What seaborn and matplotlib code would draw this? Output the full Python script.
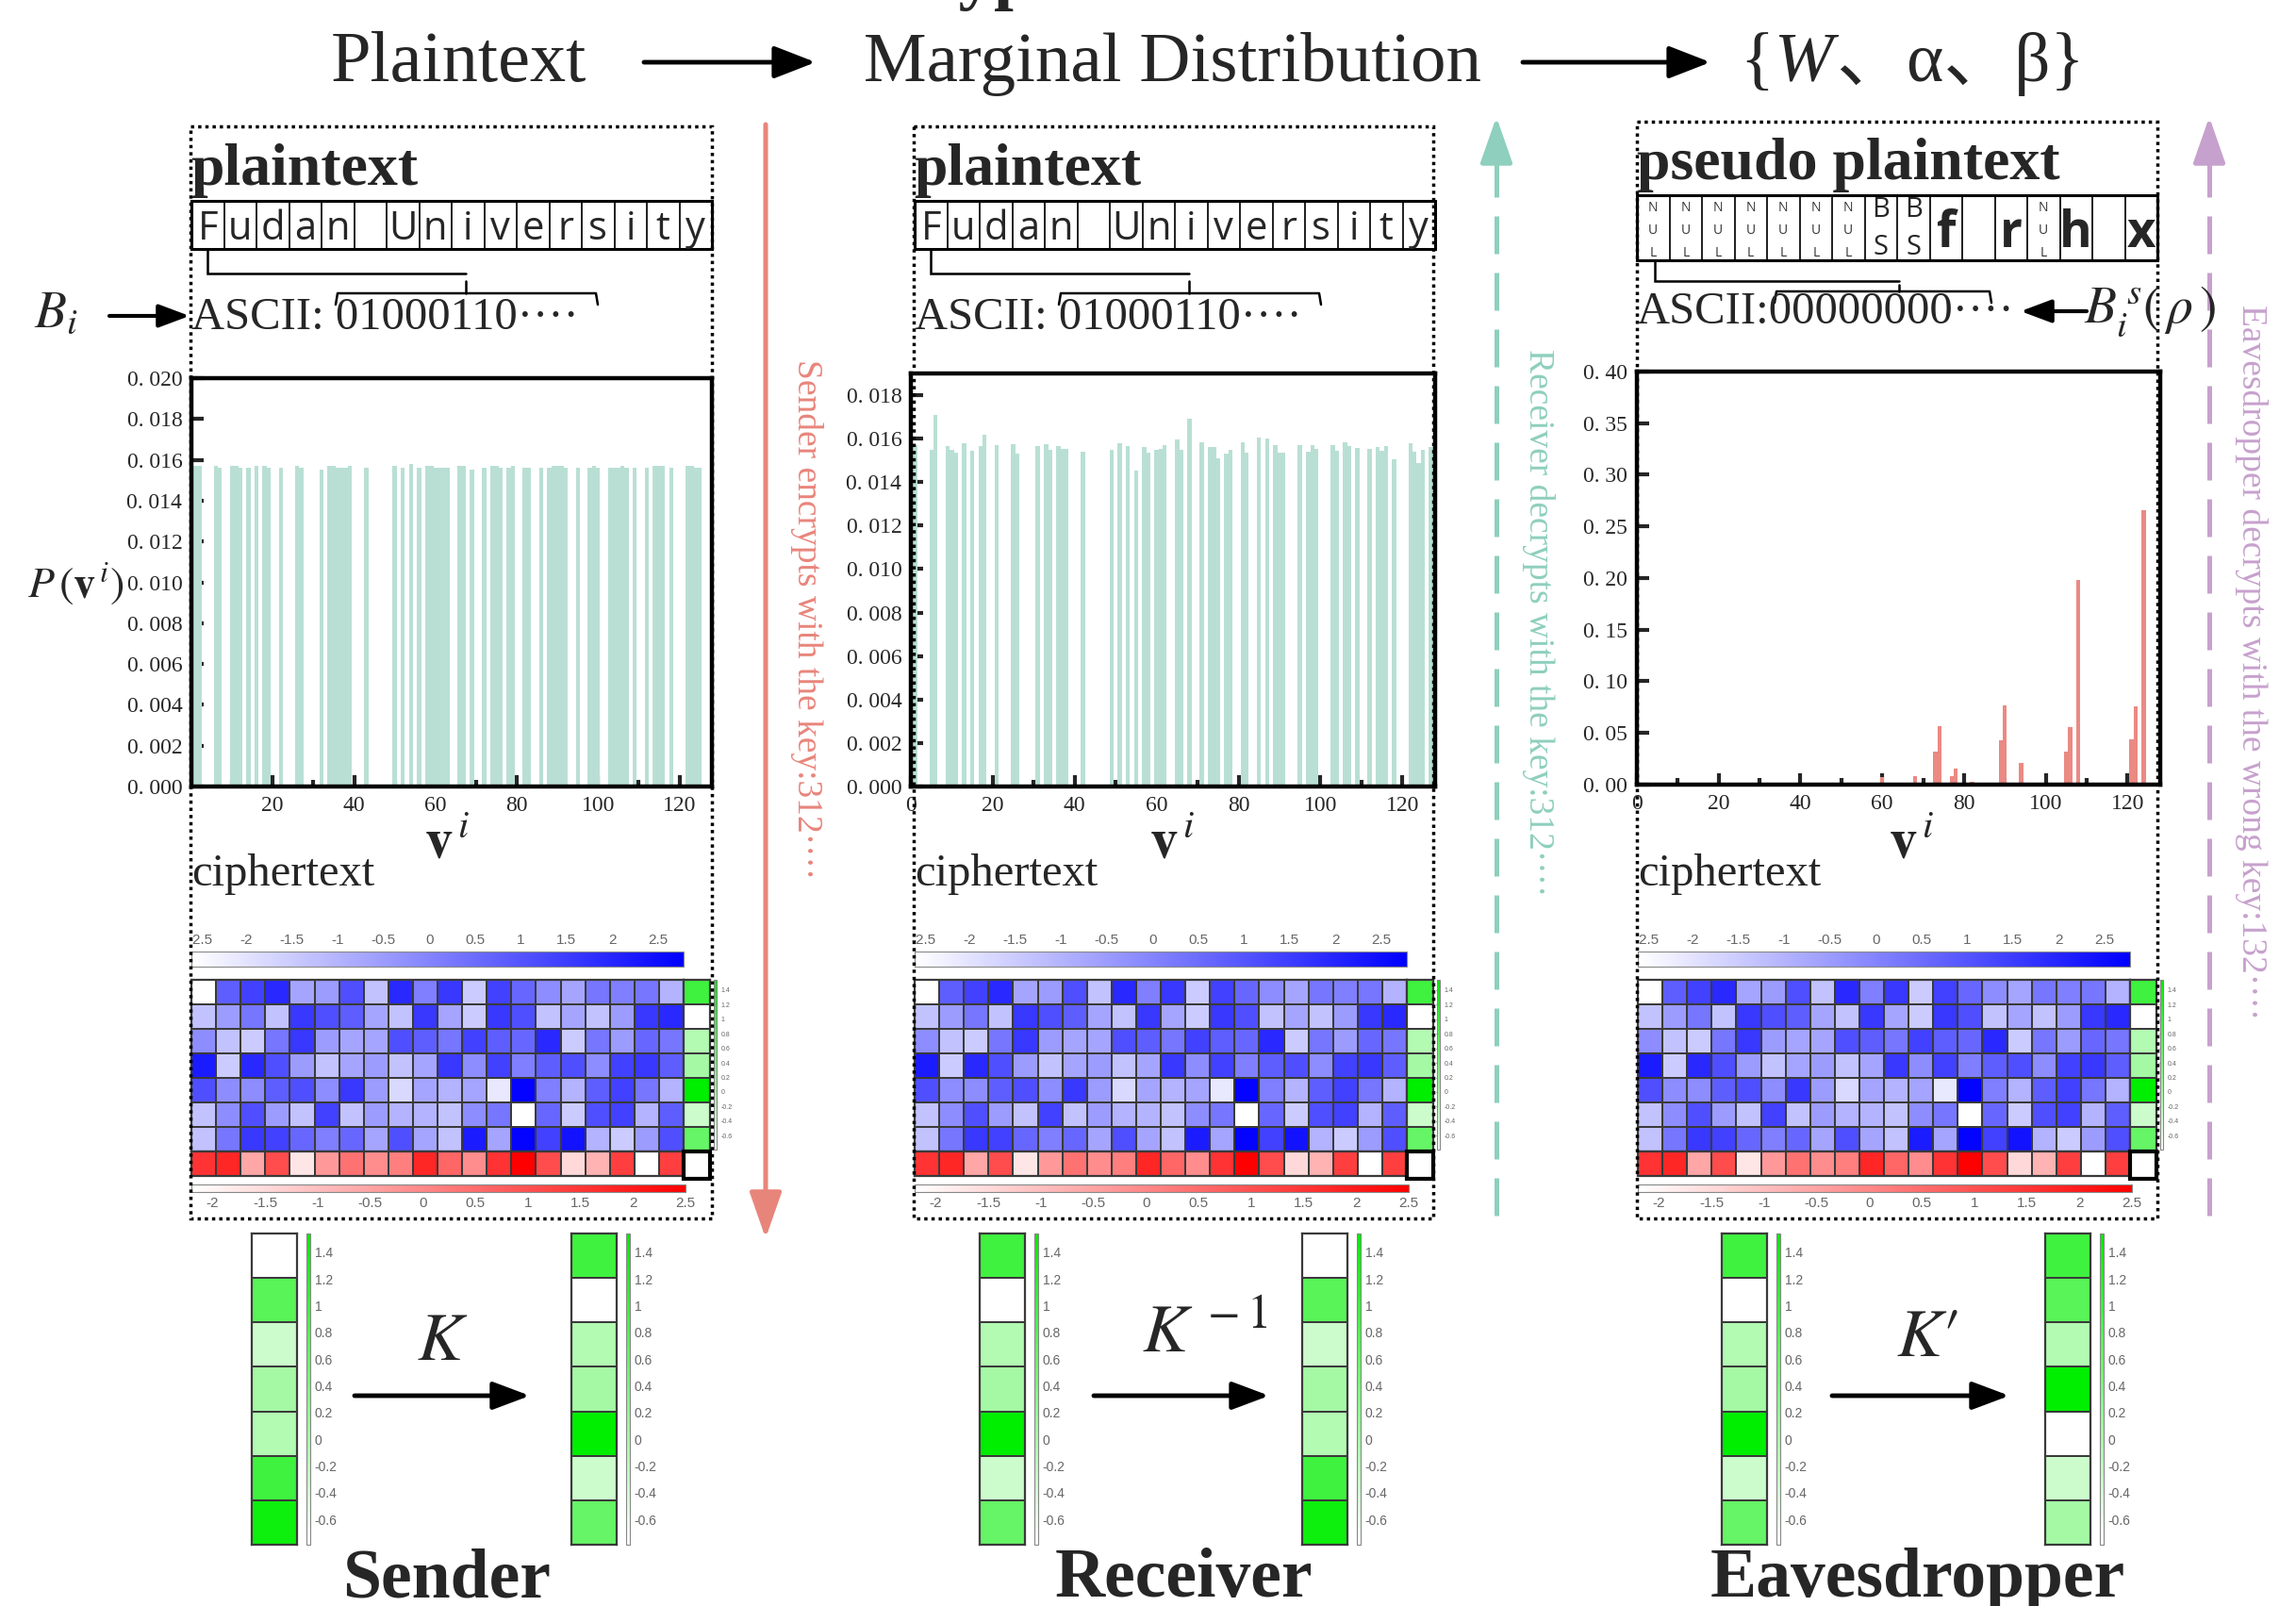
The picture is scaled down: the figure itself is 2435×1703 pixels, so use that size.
import numpy as np
import pandas as pd
import seaborn as sns
import matplotlib
matplotlib.use("Agg")
import matplotlib.pyplot as plt
from matplotlib.colors import LinearSegmentedColormap, Normalize
from matplotlib.cm import ScalarMappable
from matplotlib.patches import Rectangle
from matplotlib.ticker import FixedLocator, FuncFormatter

# ---------------- data ----------------
plain_codes = [1, 2, 6, 7, 10, 11, 12, 14, 16, 18, 19, 22, 26, 27, 32,
               34, 35, 36, 37, 38, 39, 43, 50, 52, 54, 56,
               58, 59, 60, 61, 62, 63, 66, 67, 69, 72, 74, 75, 76, 78, 79,
               82, 83, 86, 88, 89, 90, 91, 92, 95, 98, 99, 100,
               103, 104, 105, 106, 107, 109, 112, 114, 115, 116, 118,
               122, 123, 124, 125, 128]
plain_probs = [0.0157, 0.0157, 0.0157, 0.0156, 0.0157, 0.0157, 0.0156, 0.0156, 0.0157, 0.0157, 0.0156, 0.0156, 0.0157, 0.0156, 0.0155,
               0.0157, 0.0157, 0.0156, 0.0156, 0.0156, 0.0157, 0.0156, 0.0157, 0.0156, 0.0158, 0.0156,
               0.0157, 0.0157, 0.0156, 0.0156, 0.0156, 0.0156, 0.0157, 0.0157, 0.0155, 0.0156, 0.0157, 0.0157, 0.0156, 0.0156, 0.0157,
               0.0156, 0.0156, 0.0156, 0.0156, 0.0157, 0.0157, 0.0157, 0.0156, 0.0156, 0.0156, 0.0157, 0.0156,
               0.0156, 0.0156, 0.0156, 0.0157, 0.0156, 0.0156, 0.0156, 0.0157, 0.0157, 0.0157, 0.0156,
               0.0157, 0.0157, 0.0156, 0.0156, 0.0156]

recv_codes = [1, 5, 6, 9, 10, 11, 13, 15, 17, 18, 21, 25, 26, 31, 33, 34, 36, 37, 38, 42,
              49, 51, 53, 55, 57, 58, 60, 61, 62, 65, 66, 68, 71, 73, 74, 75, 77, 78,
              81, 82, 85, 87, 89, 90, 91, 95, 97, 98, 99, 103, 104, 106, 107, 109,
              112, 114, 115, 116, 118, 122, 123, 124, 125, 127]
recv_probs = [0.0157, 0.0155, 0.0171, 0.01565, 0.01547, 0.01536, 0.01577, 0.01545, 0.01568, 0.01616,
              0.0157, 0.01574, 0.01533, 0.01565, 0.01574, 0.0155, 0.01565, 0.01555, 0.01555, 0.01539,
              0.01547, 0.01577, 0.01568, 0.01453, 0.01562, 0.01536, 0.0155, 0.01555, 0.01572, 0.01597,
              0.01547, 0.01693, 0.01584, 0.0156, 0.0156, 0.01511, 0.0153, 0.01547,
              0.01584, 0.01536, 0.01606, 0.01599, 0.01572, 0.01536, 0.01536, 0.01572, 0.0154, 0.01572,
              0.01555, 0.01572, 0.01543, 0.01582, 0.01565, 0.01556,
              0.01553, 0.0156, 0.01545, 0.01568, 0.01507, 0.01577, 0.01539, 0.01486, 0.0155, 0.01562]

eve_codes = [60, 66, 68, 73, 74, 75, 77, 78, 82, 89, 90, 91, 94, 98,
             105, 106, 108, 114, 121, 122, 123, 124]
eve_probs = [0.007, 0.0016, 0.0085, 0.0323, 0.057, 0.0016, 0.0079, 0.0158, 0.0025, 0.0427,
             0.0769, 0.002, 0.0206, 0.0016, 0.0323, 0.056, 0.1984, 0.0016, 0.0437, 0.0756,
             0.0016, 0.2658]

plain_chars = list("Fudan University")
pseudo_chars = ["NUL"] * 7 + ["BS", "BS", "f", "", "r", "NUL", "h", "", "x"]

cipher_blue = [
    [-2.6, 0.8, 1.4, 1.9, -0.7, -0.5, 1.1, -1.3, 1.9, 0.1, 1.6, -1.5, 1.4, 0.6, -0.2, -0.7, 0.3, 0.1, 0.3, -1.0],
    [-1.3, -0.5, 0.3, -1.3, 1.6, 1.1, 0.8, -0.7, -1.3, 1.6, -0.7, -1.5, 1.6, 1.1, -1.3, -0.7, -1.3, -0.5, 1.6, 1.9],
    [-0.2, -1.3, -1.5, 0.3, 1.6, -0.5, -0.7, -0.7, 1.1, 0.8, 0.3, 1.4, 0.8, 0.6, 1.9, -1.5, 0.3, -0.5, 0.6, 0.3],
    [2.2, -1.5, 1.9, 1.1, -0.5, -1.3, -0.7, -0.5, -1.3, -0.7, 1.6, -0.2, 1.4, 0.1, 0.8, 1.1, -0.2, 1.4, 1.6, 0.8],
    [1.1, -0.2, -0.2, 0.8, 1.1, -0.2, 1.6, -0.5, -1.8, -0.7, -1.0, -0.7, -2.1, 2.7, 0.1, -1.0, 0.8, 1.4, 0.3, -1.0],
    [-1.3, -0.2, 1.1, -0.5, -1.3, 1.4, -1.3, -0.5, -1.0, -1.0, -1.3, -0.2, 0.3, -2.6, 0.6, -1.5, 1.1, 1.4, -1.0, 0.8],
    [-1.3, 0.3, 1.6, 1.4, 0.6, 0.1, 0.6, -0.7, 1.1, -0.7, -1.3, 2.2, -0.7, 2.7, 1.4, 2.4, -1.0, -1.5, -0.5, 1.1],
]
cipher_red = [1.56, 1.8, -0.55, 1.09, -1.73, -0.32, 0.39, -0.09, 0.15, 1.8,
              0.62, -0.09, 1.56, 2.5, 1.09, -1.5, -0.79, 1.33, -2.2, 1.33]
cipher_green = [0.96, -0.79, -0.09, 0.03, 1.54, -0.32, 0.61]

key_plain = [-0.79, 0.73, -0.32, 0.03, -0.09, 0.96, 1.42]
key_wrong = [0.96, 0.73, -0.09, 1.54, -0.79, -0.32, 0.03]

blue_ticks = [-2.5, -2, -1.5, -1, -0.5, 0, 0.5, 1, 1.5, 2, 2.5]
red_ticks = [-2, -1.5, -1, -0.5, 0, 0.5, 1, 1.5, 2, 2.5]
green_ticks = [-0.6, -0.4, -0.2, 0, 0.2, 0.4, 0.6, 0.8, 1, 1.2, 1.4]

# ---------------- style ----------------
sns.set_theme(style="white")
plt.rcParams["font.family"] = ["Liberation Serif", "Noto Sans CJK SC", "DejaVu Sans"]
plt.rcParams["mathtext.fontset"] = "stix"

W, H = 2435, 1703
fig = plt.figure(figsize=(W / 100, H / 100), dpi=100)
fig.patch.set_facecolor("white")


def px_axes(x0, y0, x1, y1, **kw):
    return fig.add_axes([x0 / W, 1 - y1 / H, (x1 - x0) / W, (y1 - y0) / H], **kw)


ov = fig.add_axes([0, 0, 1, 1], zorder=20)
ov.set_xlim(0, W)
ov.set_ylim(H, 0)
ov.axis("off")

TEAL = "#b9dfd4"
SALMON = "#eb8983"
RED_TXT = "#e8857b"
TEAL_TXT = "#8ecfbd"
PURPLE = "#c7a1cd"
GRAY = "#666666"

blue_cmap = LinearSegmentedColormap.from_list("wb", ["#ffffff", "#0000ff"])
red_cmap = LinearSegmentedColormap.from_list("wr", ["#ffffff", "#ff0000"])
green_cmap = LinearSegmentedColormap.from_list("wg", ["#ffffff", "#00ee00"])
blue_norm = Normalize(-2.6, 2.78)
red_norm = Normalize(-2.2, 2.5)
green_norm = Normalize(-0.79, 1.54)

num_fmt = FuncFormatter(lambda v, _: f"{v:g}")

# ---------------- header ----------------
ov.text(859, -4, "Encryption", fontsize=54, fontweight="bold", ha="left", va="baseline")
ov.text(486, 86, "Plaintext", fontsize=55, ha="center", va="baseline")
ov.text(1244, 86, "Marginal Distribution", fontsize=54, ha="center", va="baseline")
for xa, xb in [(683, 865), (1615, 1814)]:
    ov.annotate("", xy=(xb, 66), xytext=(xa, 66),
                arrowprops=dict(arrowstyle="-|>,head_length=0.9,head_width=0.35",
                                color="black", lw=3.5, shrinkA=0, shrinkB=0, mutation_scale=30))

renderer = fig.canvas.get_renderer()
xcur = 1845
for piece, style in [("{", "normal"), ("W", "italic"), ("、α、β}", "normal")]:
    t = ov.text(xcur, 86, piece, fontsize=54, fontstyle=style, ha="left", va="baseline")
    xcur = t.get_window_extent(renderer).x1 + (4 if piece == "W" else 0)

# ---------------- dotted panel frames ----------------
for (x0, y0, x1, y1) in [(202, 134, 755, 1292), (969, 134, 1520, 1292), (1736, 129, 2288, 1292)]:
    ov.add_patch(Rectangle((x0, y0), x1 - x0, y1 - y0, fill=False, ec="black",
                           lw=2.5, ls=(0, (1, 1.2))))

# ---------------- text rows ----------------
def char_row(x0, y0, y1, chars, bold_glyphs=False, width=552):
    cw = width / len(chars)
    for i, ch in enumerate(chars):
        ov.add_patch(Rectangle((x0 + i * cw, y0), cw, y1 - y0, fill=False, ec="#222222", lw=1.3))
        cx = x0 + (i + 0.5) * cw
        if ch == "NUL":
            for k, c in enumerate("NUL"):
                ov.text(cx, y0 + 13 + k * 24, c, family="Open Sans", fontsize=10,
                        ha="center", va="center", color="#333333")
        elif ch == "BS":
            ov.text(cx, y0 + 16, "B", family="Open Sans", fontsize=21, ha="center", va="center")
            ov.text(cx, y0 + 55, "S", family="Open Sans", fontsize=21, ha="center", va="center")
        elif ch.strip() and bold_glyphs:
            ov.text(cx, y1 - 14, ch, family="Open Sans", fontsize=38, fontweight="bold",
                    ha="center", va="baseline")
        elif ch.strip():
            ov.text(cx, y1 - 10, ch, family="Open Sans", fontsize=30, ha="center", va="baseline")
    ov.add_patch(Rectangle((x0, y0), width, y1 - y0, fill=False, ec="black", lw=2.2))


def bracket(xv, ytop, yh, xh, yt0, yb, xb0, xb1, yend):
    ov.plot([xv, xv, xh], [ytop, yh, yh], color="black", lw=1.8, solid_joinstyle="miter")
    ov.plot([xh, xh], [yt0, yb], color="black", lw=1.8)
    ov.plot([xb0, xb0 + 2, xb1 - 2, xb1], [yend, yb, yb, yend], color="black", lw=1.8)


ov.text(202, 196, "plaintext", fontsize=46, fontweight="bold", ha="left", va="baseline")
ov.text(969, 196, "plaintext", fontsize=46, fontweight="bold", ha="left", va="baseline")
ov.text(1736, 190, "pseudo plaintext", fontsize=46, fontweight="bold", ha="left", va="baseline")

char_row(203, 213, 264, plain_chars)
char_row(970, 213, 264, plain_chars)
char_row(1736, 207, 276, pseudo_chars, bold_glyphs=True)

bracket(220, 264, 290, 494, 298, 311, 356, 634, 323)
bracket(987, 264, 290, 1261, 298, 311, 1123, 1401, 323)
bracket(1755, 276, 298, 2014, 302, 309, 1882, 2112, 321)

dots = "\u00b7\u00b7\u00b7\u00b7"
ov.text(203, 337, "ASCII: 01000110" + dots, fontsize=35, ha="left", va="center")
ov.text(970, 337, "ASCII: 01000110" + dots, fontsize=35, ha="left", va="center")
ov.text(1736, 331, "ASCII:00000000" + dots, fontsize=35, ha="left", va="center")

ov.text(59, 332, r"$B_i$", fontsize=40, ha="center", va="center")
ov.annotate("", xy=(201, 335), xytext=(116, 335),
            arrowprops=dict(arrowstyle="-|>,head_length=0.8,head_width=0.3", color="black",
                            lw=3, shrinkA=0, shrinkB=0, mutation_scale=25))
ov.annotate("", xy=(2143, 330), xytext=(2213, 330),
            arrowprops=dict(arrowstyle="-|>,head_length=0.8,head_width=0.3", color="black",
                            lw=3, shrinkA=0, shrinkB=0, mutation_scale=25))
ov.text(2210, 330, r"$B_i^{\,s}(\,\rho\,)$", fontsize=40, ha="left", va="center")

# ---------------- marginal distributions ----------------
def bar_panel(rect, codes, probs, color, ymax, yticks, fmt, xticks):
    ax = px_axes(*rect)
    df = pd.DataFrame({"code": codes, "p": probs})
    sns.barplot(data=df, x="code", y="p", native_scale=True, color=color, width=1.0,
                saturation=1, linewidth=0, errorbar=None, ax=ax)
    ax.set_xlim(0, 128)
    ax.set_ylim(0, ymax)
    ax.set_yticks(yticks)
    ax.yaxis.set_major_formatter(FuncFormatter(fmt))
    ax.set_xticks(xticks)
    ax.xaxis.set_major_formatter(FuncFormatter(lambda v, _: f"{v:g}"))
    ax.xaxis.set_minor_locator(FixedLocator([10, 30, 50, 70, 90, 110]))
    ax.tick_params(axis="both", which="major", direction="in", length=9, width=3,
                   labelsize=17, pad=7, bottom=True, left=True, top=False, right=False)
    ax.tick_params(axis="x", which="minor", direction="in", length=5, width=3, bottom=True)
    for s in ax.spines.values():
        s.set_visible(True)
        s.set_linewidth(3.2)
        s.set_color("black")
    ax.set_xlabel("")
    ax.set_ylabel("")
    ax.set_facecolor("white")
    return ax


bar_panel((203, 401, 755, 834), plain_codes, plain_probs, TEAL, 0.020,
          np.arange(0, 0.0201, 0.002), lambda v, _: f"0. {int(round(v * 1000)):03d}",
          [20, 40, 60, 80, 100, 120])
bar_panel((966, 396, 1522, 834), recv_codes, recv_probs, TEAL, 0.0190,
          np.arange(0, 0.0181, 0.002), lambda v, _: f"0. {int(round(v * 1000)):03d}",
          [0, 20, 40, 60, 80, 100, 120])
bar_panel((1736, 394, 2291, 832), eve_codes, eve_probs, SALMON, 0.40,
          np.arange(0, 0.401, 0.05), lambda v, _: f"0. {int(round(v * 100)):02d}",
          [0, 20, 40, 60, 80, 100, 120])

ov.text(80, 619, r"$P\,(\mathbf{v}^{\,i})$", fontsize=33, ha="center", va="center")
for xc in (474, 1243, 2027):
    ov.text(xc, 894, r"$\mathbf{v}^{\,i}$", fontsize=42, ha="center", va="center")

# ---------------- direction arrows ----------------
ov.annotate("", xy=(812, 1313), xytext=(812, 132),
            arrowprops=dict(arrowstyle="-|>,head_length=1.0,head_width=0.35", color=RED_TXT,
                            lw=3.6, shrinkA=0, shrinkB=0, mutation_scale=30))
ov.text(856, 657, "Sender encrypts with the key:312" + dots, rotation=-90, fontsize=27,
        color=RED_TXT, ha="center", va="center")

for xa, col, yc, label in [(1587, TEAL_TXT, 660, "Receiver decrypts with the key:312" + dots),
                           (2343, PURPLE, 702, "Eavesdropper decrypts with the wrong key:132" + dots)]:
    ov.plot([xa, xa], [1289, 160], color=col, lw=3.6, ls=(0, (8, 4)))
    ov.annotate("", xy=(xa, 124), xytext=(xa, 162),
                arrowprops=dict(arrowstyle="-|>,head_length=1.0,head_width=0.35", color=col,
                                lw=3.6, shrinkA=0, shrinkB=0, mutation_scale=30))
    ov.text(xa + 44, yc, label, rotation=-90, fontsize=27, color=col, ha="center", va="center")

# ---------------- ciphertext blocks ----------------
def small_cbar(rect, cmap, norm, ticks, orient, labelsize, side):
    cax = px_axes(*rect)
    cb = fig.colorbar(ScalarMappable(norm=norm, cmap=cmap), cax=cax, orientation=orient)
    cb.set_ticks(ticks)
    cb.ax.tick_params(labelsize=labelsize, colors=GRAY, length=3, width=0.8, direction="in")
    cb.outline.set_edgecolor("#888888")
    cb.outline.set_linewidth(0.8)
    if orient == "horizontal":
        cb.ax.xaxis.set_ticks_position(side)
        cb.ax.xaxis.set_major_formatter(num_fmt)
    else:
        cb.ax.yaxis.set_ticks_position(side)
        cb.ax.yaxis.set_major_formatter(num_fmt)
    for lab in cb.ax.get_xticklabels() + cb.ax.get_yticklabels():
        lab.set_family("Liberation Sans")
    return cb


def heat(rect, data, cmap, norm):
    ax = px_axes(*rect)
    sns.heatmap(np.asarray(data), cmap=cmap, vmin=norm.vmin, vmax=norm.vmax, cbar=False,
                linewidths=1.4, linecolor="#3a3a3a", xticklabels=False, yticklabels=False, ax=ax)
    for s in ax.spines.values():
        s.set_visible(True)
        s.set_linewidth(1.6)
        s.set_color("#3a3a3a")
    return ax


def cipher_block(x0):
    small_cbar((x0, 1009, x0 + 522, 1025), blue_cmap, blue_norm, blue_ticks, "horizontal", 11, "top")
    heat((x0, 1039, x0 + 522, 1221), cipher_blue, blue_cmap, blue_norm)
    heat((x0 + 522, 1039, x0 + 550, 1221), np.array(cipher_green).reshape(-1, 1), green_cmap, green_norm)
    heat((x0, 1221, x0 + 522, 1247), np.array(cipher_red).reshape(1, -1), red_cmap, red_norm)
    ov.add_patch(Rectangle((x0 + 522, 1221), 28, 29, fill=False, ec="black", lw=3))
    small_cbar((x0 + 554, 1039, x0 + 557, 1219), green_cmap, green_norm, green_ticks, "vertical", 5, "right")
    small_cbar((x0, 1256, x0 + 524, 1264), red_cmap, red_norm, red_ticks, "horizontal", 11, "bottom")
    ov.text(x0, 927, "ciphertext", fontsize=35, ha="left", va="center")


for x0 in (203, 970, 1737):
    cipher_block(x0)

# ---------------- key transforms ----------------
def key_column(x0, values):
    heat((x0, 1308, x0 + 48, 1638), np.array(values).reshape(-1, 1), green_cmap, green_norm)
    small_cbar((x0 + 58, 1308, x0 + 62, 1638), green_cmap, green_norm, green_ticks, "vertical", 10, "right")


for (xl, vl, xr, vr, xa0, xa1, lab, lx, ly, name, nx) in [
        (267, key_plain, 606, cipher_green, 376, 562, r"$K$", 469, 1424, "Sender", 474),
        (1039, cipher_green, 1381, key_plain, 1160, 1346, r"$K^{\,-1}$", 1278, 1416, "Receiver", 1255),
        (1826, cipher_green, 2169, key_wrong, 1943, 2131, r"$K\prime$", 2044, 1421, "Eavesdropper", 2034)]:
    key_column(xl, vl)
    key_column(xr, vr)
    ov.annotate("", xy=(xa1, 1480), xytext=(xa0, 1480),
                arrowprops=dict(arrowstyle="-|>,head_length=0.8,head_width=0.3", color="black",
                                lw=3.5, shrinkA=0, shrinkB=0, mutation_scale=30))
    ov.text(lx, ly, lab, fontsize=52, ha="center", va="center")
    ov.text(nx, 1693, name, fontsize=53, fontweight="bold", ha="center", va="baseline")

fig.savefig("out.png", dpi=100, facecolor="white")
